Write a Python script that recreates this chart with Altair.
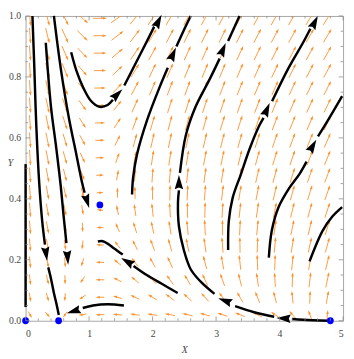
import math
import altair as alt
import pandas as pd

# ---------------- layout ----------------
W, H = 325, 312
PX_X, PX_Y = W / 5.0, H / 1.0

# ---------------- axes ----------------
X_TICKS = [0, 1, 2, 3, 4, 5]
Y_TICKS = [0.0, 0.2, 0.4, 0.6, 0.8, 1.0]
X_MINOR = [round(0.2 * k, 2) for k in range(26) if k % 5]
Y_MINOR = [round(0.05 * k, 2) for k in range(21) if k % 4]

# ---------------- equilibria (blue dots) ----------------
EQ_X = [0.0, 0.52, 4.8, 1.17]
EQ_Y = [0.0, 0.0, 0.0, 0.38]

# ---------------- vector field model ----------------
A_LOW, B_HIGH = 0.52, 4.8      # equilibria on the X axis
X_STAR, Y_STAR = 1.17, 0.38    # interior saddle
H_SAT, BETA, M_Y = 0.3, 0.6, 2.8
K_N = Y_STAR * (X_STAR + H_SAT) / ((X_STAR - A_LOW) * (B_HIGH - X_STAR))

GRID_X = [0.07 + 0.2755 * k for k in range(18)]
GRID_Y = [0.02 + 0.0572 * k for k in range(18)]


def nullcline(x):
    return K_N * (x - A_LOW) * (B_HIGH - x) / (x + H_SAT)


def field(x, y):
    fx = BETA * x * (y - nullcline(x)) * (1 + M_Y * y)
    fy = y * (x - X_STAR)
    return fx, fy


# ---------------- highlighted trajectories (black) ----------------
CURVES_X = [
    [0.108, 0.138, 0.169, 0.215, 0.262, 0.305],
    [0.357, 0.4, 0.446, 0.492, 0.523],
    [0.318, 0.4, 0.477, 0.549, 0.6, 0.643],
    [0.446, 0.554, 0.677, 0.8, 0.892, 0.930],
    [0.718, 0.8, 0.908, 1.031, 1.165, 1.292, 1.375],
    [1.555, 1.754, 1.938, 2.025],
    [1.677, 1.692, 1.754, 1.908, 2.108, 2.240],
    [2.375, 2.492, 2.6],
    [4.78, 4.369, 4.195],
    [3.915, 3.6, 3.300],
    [2.975, 2.754, 2.6, 2.492, 2.415, 2.4, 2.415],
    [2.431, 2.523, 2.677, 2.908, 3.056],
    [3.19, 3.369],
    [3.19, 3.2, 3.262, 3.395, 3.523, 3.677, 3.748],
    [3.882, 4.138, 4.369, 4.485],
    [3.831, 3.877, 3.985, 4.154, 4.318, 4.425],
    [4.605, 4.754, 4.985],
    [4.472, 4.677, 4.831, 4.985],
    [2.395, 2.138, 1.908, 1.700],
    [1.530, 1.395, 1.292, 1.215, 1.138],
    [1.549, 1.292, 1.062, 0.900],
    [0.0, 0.0],
]
CURVES_Y = [
    [1.0, 0.828, 0.639, 0.451, 0.326, 0.250],
    [0.175, 0.138, 0.091, 0.05, 0.019],
    [0.912, 0.702, 0.577, 0.451, 0.342, 0.255],
    [1.0, 0.828, 0.671, 0.545, 0.451, 0.420],
    [0.881, 0.821, 0.765, 0.721, 0.702, 0.708, 0.725],
    [0.772, 0.853, 0.928, 0.965],
    [0.414, 0.467, 0.545, 0.655, 0.765, 0.830],
    [0.900, 0.953, 1.0],
    [0.0, 0.003, 0.006],
    [0.013, 0.028, 0.048],
    [0.088, 0.129, 0.169, 0.232, 0.31, 0.389, 0.428],
    [0.485, 0.608, 0.702, 0.796, 0.860],
    [0.918, 1.0],
    [0.232, 0.326, 0.404, 0.483, 0.561, 0.639, 0.666],
    [0.720, 0.828, 0.912, 0.958],
    [0.207, 0.295, 0.373, 0.436, 0.483, 0.522],
    [0.605, 0.655, 0.737],
    [0.195, 0.295, 0.342, 0.373],
    [0.091, 0.122, 0.15, 0.180],
    [0.217, 0.237, 0.253, 0.261, 0.26],
    [0.05, 0.054, 0.05, 0.042],
    [0.514, 0.045],
]

# black arrowheads: position and direction (screen right / up)
ARROW_X = [0.323, 0.662, 0.969, 1.446, 2.092, 2.323, 4.062, 3.138, 2.415,
           3.108, 3.8, 4.554, 4.523, 1.6, 0.754]
ARROW_Y = [0.219, 0.207, 0.392, 0.743, 0.983, 0.875, 0.008, 0.066, 0.455,
           0.890, 0.693, 0.980, 0.574, 0.194, 0.031]
ARROW_DX = [2, 1, 3, 5, 4, 4, -1, -4, 0, 3, 3, 4, 4, -5, -5]
ARROW_DY = [-14, -13, -10, 5, 8, 9, 0.05, 1.5, 1, 7, 7, 8, 7, 3, -1.5]

ORANGE = "#FF9029"
HEAD_PATH = "M0,-1L0.6,1L-0.6,1Z"
BLACK_HEAD_PATH = "M0,-1L0.6,1L0,0.75L-0.6,1Z"

# ---------------- build tables ----------------
frows = []
for gx in GRID_X:
    for gy in GRID_Y:
        fx, fy = field(gx, gy)
        px, py = fx * PX_X, fy * PX_Y
        sp = math.hypot(px, py)
        if sp < 1e-9:
            continue
        ux, uy = px / sp, py / sp
        L = 5 + 11 * min(1.0, sp / 150.0) ** 0.5
        frows.append({
            "x0": gx - ux * L / 2 / PX_X, "y0": gy - uy * L / 2 / PX_Y,
            "x1": gx + ux * (L / 2 - 2) / PX_X, "y1": gy + uy * (L / 2 - 2) / PX_Y,
            "hx": gx + ux * (L / 2 - 2.0) / PX_X, "hy": gy + uy * (L / 2 - 2.0) / PX_Y,
            "ang": math.degrees(math.atan2(ux, uy)) % 360,
        })
field_df = pd.DataFrame(frows)

crows = []
for s, (xs_, ys_) in enumerate(zip(CURVES_X, CURVES_Y)):
    for i, (x, y) in enumerate(zip(xs_, ys_)):
        crows.append({"seg": s, "i": i, "x": x, "y": y})
curve_df = pd.DataFrame(crows)

arrow_df = pd.DataFrame({
    "x": ARROW_X, "y": ARROW_Y,
    "ang": [math.degrees(math.atan2(dx, dy)) % 360 for dx, dy in zip(ARROW_DX, ARROW_DY)],
})
eq_df = pd.DataFrame({"x": EQ_X, "y": EQ_Y})

xs = alt.Scale(domain=[0, 5], nice=False, zero=False)
ys = alt.Scale(domain=[0, 1], nice=False, zero=False)

FONT = "Liberation Serif"
x_axis = alt.Axis(values=X_TICKS, format="d", ticks=False, domain=False, grid=False,
                  labelFont=FONT, labelFontSize=10, labelColor="#444444", labelPadding=8,
                  title="X", titleFont=FONT, titleFontStyle="italic", titleFontWeight="normal",
                  titleFontSize=10, titleColor="#444444", titleY=30, titleBaseline="middle")
y_axis = alt.Axis(values=Y_TICKS, format=".1f", ticks=False, domain=False, grid=False,
                  labelFont=FONT, labelFontSize=10, labelColor="#444444", labelPadding=5,
                  title="Y", titleFont=FONT, titleFontStyle="italic", titleFontWeight="normal",
                  titleFontSize=10, titleColor="#444444", titleAngle=0, titleX=-16,
                  titleY=150, titleAlign="center", titleBaseline="middle")

shafts = alt.Chart(field_df).mark_rule(color=ORANGE, strokeWidth=0.9, clip=True).encode(
    x=alt.X("x0:Q", scale=xs, axis=x_axis), y=alt.Y("y0:Q", scale=ys, axis=y_axis),
    x2="x1:Q", y2="y1:Q")

heads = alt.Chart(field_df).mark_point(shape=HEAD_PATH, filled=True, color=ORANGE,
                                       opacity=1, size=18, strokeWidth=0, clip=True).encode(
    x=alt.X("hx:Q", scale=xs), y=alt.Y("hy:Q", scale=ys),
    angle=alt.Angle("ang:Q", scale=None))

curves = alt.Chart(curve_df).mark_line(color="black", strokeWidth=2.5,
                                       interpolate="catmull-rom", strokeCap="butt").encode(
    x=alt.X("x:Q", scale=xs), y=alt.Y("y:Q", scale=ys),
    detail="seg:N", order="i:Q")

bheads = alt.Chart(arrow_df).mark_point(shape=BLACK_HEAD_PATH, filled=True, color="black",
                                        opacity=1, size=210, strokeWidth=0).encode(
    x=alt.X("x:Q", scale=xs), y=alt.Y("y:Q", scale=ys),
    angle=alt.Angle("ang:Q", scale=None))

eq = alt.Chart(eq_df).mark_circle(color="#0000FF", opacity=1, size=48).encode(
    x=alt.X("x:Q", scale=xs), y=alt.Y("y:Q", scale=ys))

TICK_COLOR = "#8C8C8C"


def xticks(vals, ln):
    d = pd.DataFrame({"v": vals})
    b = alt.Chart(d).mark_rule(color=TICK_COLOR, strokeWidth=0.8).encode(
        x=alt.X("v:Q", scale=xs), y=alt.value(H), y2=alt.value(H - ln))
    t = alt.Chart(d).mark_rule(color=TICK_COLOR, strokeWidth=0.8).encode(
        x=alt.X("v:Q", scale=xs), y=alt.value(0), y2=alt.value(ln))
    return [b, t]


def yticks(vals, ln):
    d = pd.DataFrame({"v": vals})
    l = alt.Chart(d).mark_rule(color=TICK_COLOR, strokeWidth=0.8).encode(
        y=alt.Y("v:Q", scale=ys), x=alt.value(0), x2=alt.value(ln))
    r = alt.Chart(d).mark_rule(color=TICK_COLOR, strokeWidth=0.8).encode(
        y=alt.Y("v:Q", scale=ys), x=alt.value(W), x2=alt.value(W - ln))
    return [l, r]


ticks = xticks(X_TICKS, 4.5) + xticks(X_MINOR, 2.5) + yticks(Y_TICKS, 4.5) + yticks(Y_MINOR, 2.5)

chart = alt.layer(shafts, heads, curves, bheads, eq, *ticks).properties(
    width=W, height=H,
    autosize=alt.AutoSizeParams(type="none"),
    padding={"left": 18, "top": 4, "right": 3, "bottom": 35},
).configure_view(stroke="#A6A6A6", strokeWidth=1)

chart.save("out.html", embed_options={"renderer": "svg", "actions": False})
